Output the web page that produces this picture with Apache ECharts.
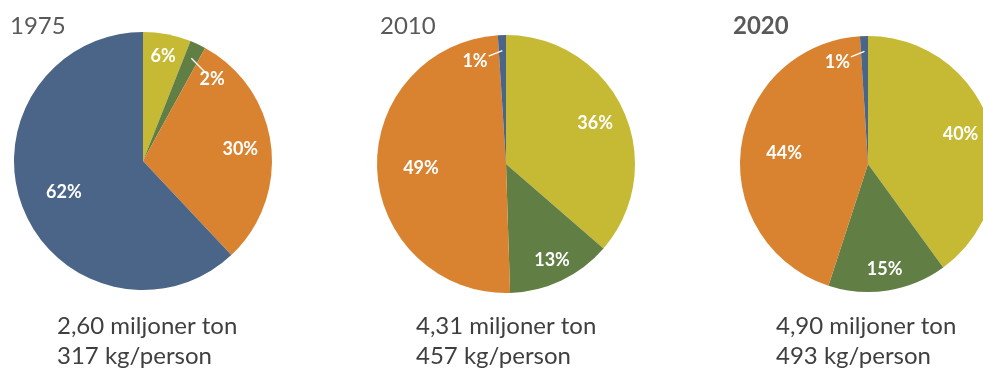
<!DOCTYPE html>
<html>
<head>
<meta charset="utf-8">
<script src="https://cdn.jsdelivr.net/npm/echarts@6/dist/echarts.min.js"></script>
<style>
  html, body { margin: 0; padding: 0; background: #ffffff; }
  #chart { width: 983px; height: 369px; }
</style>
</head>
<body>
<div id="chart"></div>
<script>
// Household waste by treatment method, share of total (%)
const categories = ['Materialåtervinning', 'Biologisk återvinning', 'Energiåtervinning', 'Deponering'];
const years = ['1975', '2010', '2020'];
const share1975 = [6, 2, 30, 62];
const share2010 = [36, 13, 49, 1];
const share2020 = [40, 15, 44, 1];
const totalTonnes = ['2,60', '4,31', '4,90'];
const kgPerPerson = ['317', '457', '493'];

const shares = [share1975, share2010, share2020];
const colors = ['#c6b933', '#617f45', '#d98330', '#4a6587'];
const FONT = 'Lato, "Noto Sans", sans-serif';
const LABEL_SIZE = 18;
const LABEL_WEIGHT = 'bold';

// Pie placement (px) for each year
const pies = [
  { cx: 143, cy: 161, r: 129, titleX: 10, textX: 57, bold: false },
  { cx: 506, cy: 164, r: 129, titleX: 380, textX: 416, bold: false },
  { cx: 868, cy: 164, r: 128, titleX: 733, textX: 776, bold: true }
];

const sumOf = (vals) => vals.reduce((a, b) => a + b, 0);

// Geometry of one slice: mid-angle (clockwise from 12 o'clock) and share
function sliceMid(values, i) {
  const sum = sumOf(values);
  let cum = 0;
  for (let k = 0; k < i; k++) cum += values[k];
  return { mid: 2 * Math.PI * (cum + values[i] / 2) / sum, share: values[i] / sum };
}

function polar(p, angle, radius) {
  return [p.cx + radius * Math.sin(angle), p.cy - radius * Math.cos(angle)];
}

const isThin = (values, i) => values[i] / sumOf(values) < 0.03;

// Label anchor for a slice
function labelPos(s, i) {
  const p = pies[s], values = shares[s], n = values.length;
  const g = sliceMid(values, i);
  if (isThin(values, i)) {
    // thin slice: label pushed into the larger neighbour
    const prev = values[(i - 1 + n) % n], next = values[(i + 1) % n];
    const dir = next > prev ? 1 : -1;
    return polar(p, g.mid + dir * 15 * Math.PI / 180, p.r * 0.83);
  }
  const frac = g.share >= 0.42 ? 0.66 : (g.share >= 0.2 ? 0.76 : 0.83);
  return polar(p, g.mid, p.r * frac);
}

// Short white leader from a thin slice to its label box
const measureCtx = document.createElement('canvas').getContext('2d');
function leaderPoints(s, i) {
  const p = pies[s], values = shares[s];
  const g = sliceMid(values, i);
  const pos = labelPos(s, i);
  measureCtx.font = LABEL_WEIGHT + ' ' + LABEL_SIZE + 'px ' + FONT;
  const w = measureCtx.measureText(values[i] + '%').width;
  const h = LABEL_SIZE * 0.75;
  const start = polar(p, g.mid, p.r * 0.88);
  const dx = start[0] - pos[0], dy = start[1] - pos[1];
  const t = Math.min((w / 2 + 1) / Math.abs(dx || 1e-6), (h / 2 + 1) / Math.abs(dy || 1e-6));
  return [start, [pos[0] + dx * t, pos[1] + dy * t]];
}

function labelLayout(params) {
  const pos = labelPos(params.seriesIndex, params.dataIndex);
  return { x: pos[0], y: pos[1], align: 'center', verticalAlign: 'middle' };
}

const series = shares.map((vals, s) => ({
  type: 'pie',
  center: [pies[s].cx, pies[s].cy],
  radius: [0, pies[s].r],
  startAngle: 90,
  clockwise: true,
  avoidLabelOverlap: false,
  silent: true,
  animation: false,
  itemStyle: { borderWidth: 0 },
  label: {
    show: true,
    position: 'inside',
    formatter: '{c}%',
    color: '#ffffff',
    fontFamily: FONT,
    fontSize: LABEL_SIZE,
    fontWeight: LABEL_WEIGHT
  },
  labelLine: { show: false },
  labelLayout: labelLayout,
  data: vals.map((v, i) => ({ name: categories[i], value: v, itemStyle: { color: colors[i] } }))
}));

const leaders = [];
shares.forEach((vals, s) => {
  vals.forEach((v, i) => {
    if (isThin(vals, i)) {
      leaders.push({
        type: 'polyline', z: 10, silent: true,
        shape: { points: leaderPoints(s, i) },
        style: { stroke: '#ffffff', lineWidth: 1.3, fill: null }
      });
    }
  });
});

const titles = [];
years.forEach((y, s) => {
  titles.push({
    text: y, left: pies[s].titleX, top: 12, padding: 0,
    textStyle: { fontFamily: FONT, fontSize: 24, lineHeight: 28,
                 fontWeight: pies[s].bold ? 'bold' : 'normal', color: '#595959' }
  });
  titles.push({
    text: totalTonnes[s] + ' miljoner ton\n' + kgPerPerson[s] + ' kg/person',
    left: pies[s].textX, top: 311, padding: 0,
    textStyle: { fontFamily: FONT, fontSize: 24, lineHeight: 30,
                 fontWeight: 'normal', color: '#3f3f3f' }
  });
});

const chart = echarts.init(document.getElementById('chart'), null, { renderer: 'canvas' });
chart.setOption({
  backgroundColor: '#ffffff',
  animation: false,
  title: titles,
  series: series,
  graphic: leaders
});
</script>
</body>
</html>
